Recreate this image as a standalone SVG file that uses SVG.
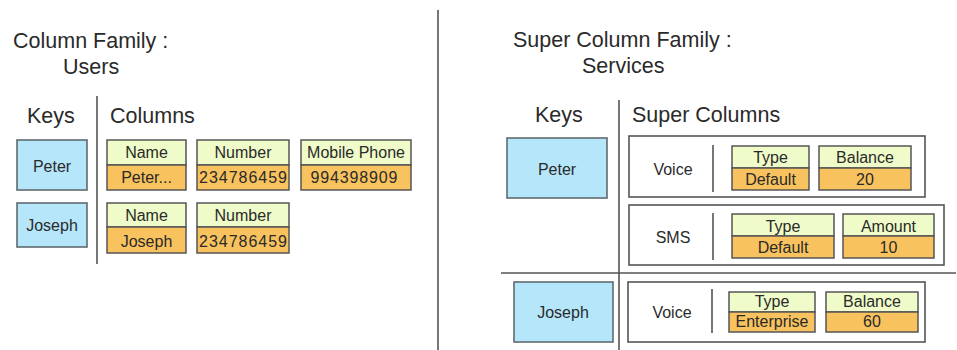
<svg xmlns="http://www.w3.org/2000/svg" width="957" height="350" viewBox="0 0 957 350">
<style>
text{font-family:"Liberation Sans",Arial,sans-serif;fill:#2a2a2a}
.t{font-size:21.5px}
.c{font-size:16px;text-anchor:middle}
.k{fill:#b5e6fa;stroke:#5f6b70;stroke-width:1.6}
.h{fill:#effcc9;stroke:#555;stroke-width:1.5}
.v{fill:#f8c35e;stroke:#555;stroke-width:1.5}
.sb{fill:#fff;stroke:#555;stroke-width:1.6}
.ln{stroke:#555;stroke-width:1.6;fill:none}
</style>
<rect width="957" height="350" fill="#fff"/>
<g id="dividers">
<line class="ln" x1="438" y1="10" x2="438" y2="350"/>
<line class="ln" x1="97" y1="96" x2="97" y2="264"/>
<line class="ln" x1="619" y1="100" x2="619" y2="350"/>
<line class="ln" x1="501" y1="273" x2="956" y2="273"/>
</g>
<g id="titles">
<text class="t" x="13" y="48">Column Family :</text>
<text class="t" x="63" y="74">Users</text>
<text class="t" x="513" y="47">Super Column Family :</text>
<text class="t" x="582" y="73">Services</text>
<text class="t" x="27" y="123">Keys</text>
<text class="t" x="110" y="123">Columns</text>
<text class="t" x="535" y="122">Keys</text>
<text class="t" x="632" y="122">Super Columns</text>
</g>
<g id="cf-peter">
<rect class="k" x="17" y="140" width="70" height="50"/>
<text class="c" x="52" y="172">Peter</text>
</g>
<g id="cf-joseph">
<rect class="k" x="17" y="203" width="70" height="44"/>
<text class="c" x="52" y="231">Joseph</text>
</g>
<g id="cf-peter-name">
<rect class="h" x="107" y="140" width="79" height="25"/><rect class="v" x="107" y="165" width="79" height="25"/>
<text class="c" x="146.5" y="158">Name</text><text class="c" x="146.5" y="183">Peter...</text>
</g>
<g id="cf-peter-number">
<rect class="h" x="197" y="140" width="92" height="25"/><rect class="v" x="197" y="165" width="92" height="25"/>
<text class="c" x="243" y="158">Number</text><text class="c" x="243" y="183" textLength="88">234786459</text>
</g>
<g id="cf-peter-mobile">
<rect class="h" x="301" y="140" width="110" height="25"/><rect class="v" x="301" y="165" width="110" height="25"/>
<text class="c" x="356" y="158">Mobile Phone</text><text class="c" x="354" y="183" textLength="87">994398909</text>
</g>
<g id="cf-joseph-name">
<rect class="h" x="107" y="203" width="79" height="24"/><rect class="v" x="107" y="227" width="79" height="26"/>
<text class="c" x="146.5" y="221">Name</text><text class="c" x="146.5" y="247">Joseph</text>
</g>
<g id="cf-joseph-number">
<rect class="h" x="197" y="203" width="92" height="24"/><rect class="v" x="197" y="227" width="92" height="26"/>
<text class="c" x="243" y="221">Number</text><text class="c" x="243" y="247" textLength="88">234786459</text>
</g>
<g id="scf-peter">
<rect class="k" x="507" y="138" width="100" height="60"/>
<text class="c" x="557" y="175">Peter</text>
</g>
<g id="scf-peter-voice">
<rect class="sb" x="629" y="136" width="296" height="61"/>
<line class="ln" x1="713" y1="145" x2="713" y2="192"/>
<text class="c" x="673" y="175">Voice</text>
<rect class="h" x="732" y="146" width="77" height="22"/><rect class="v" x="732" y="168" width="77" height="22"/>
<text class="c" x="770.5" y="163">Type</text><text class="c" x="770.5" y="185">Default</text>
<rect class="h" x="819" y="146" width="92" height="22"/><rect class="v" x="819" y="168" width="92" height="22"/>
<text class="c" x="865" y="163">Balance</text><text class="c" x="865" y="185">20</text>
</g>
<g id="scf-peter-sms">
<rect class="sb" x="629" y="205" width="315" height="60"/>
<line class="ln" x1="713" y1="213" x2="713" y2="260"/>
<text class="c" x="673" y="243">SMS</text>
<rect class="h" x="732" y="214" width="102" height="22"/><rect class="v" x="732" y="236" width="102" height="22"/>
<text class="c" x="783" y="232">Type</text><text class="c" x="783" y="253">Default</text>
<rect class="h" x="843" y="214" width="91" height="22"/><rect class="v" x="843" y="236" width="91" height="22"/>
<text class="c" x="888.5" y="232">Amount</text><text class="c" x="888.5" y="253">10</text>
</g>
<g id="scf-joseph">
<rect class="k" x="514" y="282" width="99" height="60"/>
<text class="c" x="563" y="318">Joseph</text>
</g>
<g id="scf-joseph-voice">
<rect class="sb" x="628" y="282" width="297" height="60"/>
<line class="ln" x1="712" y1="289" x2="712" y2="333"/>
<text class="c" x="672" y="318">Voice</text>
<rect class="h" x="729" y="292" width="86" height="20"/><rect class="v" x="729" y="312" width="86" height="20"/>
<text class="c" x="772" y="307">Type</text><text class="c" x="772" y="327">Enterprise</text>
<rect class="h" x="826" y="292" width="92" height="20"/><rect class="v" x="826" y="312" width="92" height="20"/>
<text class="c" x="872" y="307">Balance</text><text class="c" x="872" y="327">60</text>
</g>
</svg>
